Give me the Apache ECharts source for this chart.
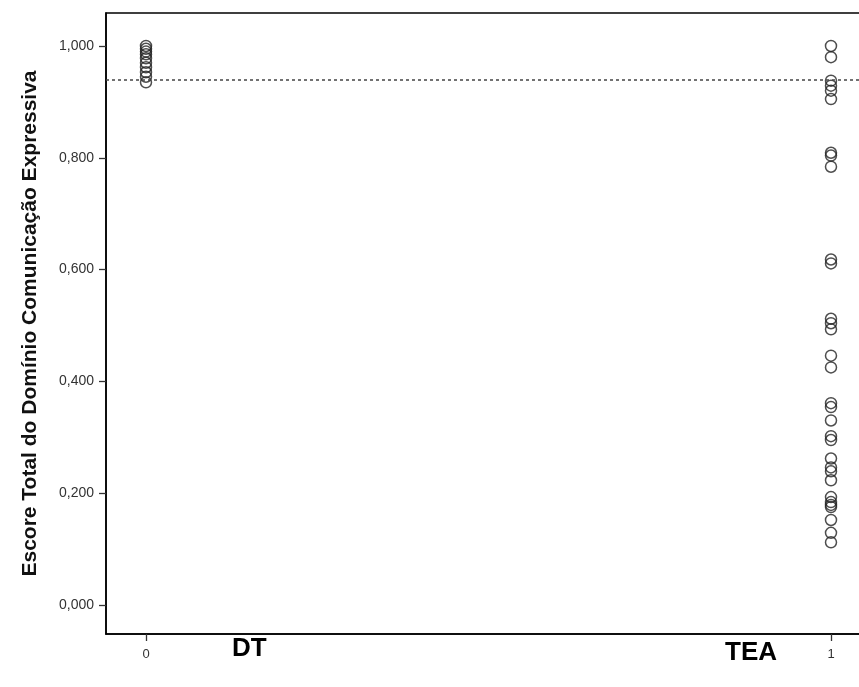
<!DOCTYPE html>
<html>
<head>
<meta charset="utf-8">
<script src="https://cdn.jsdelivr.net/npm/echarts@6/dist/echarts.min.js"></script>
<style>
html,body{margin:0;padding:0;background:#fff;}
#chart{width:859px;height:687px;}
</style>
</head>
<body>
<div id="chart"></div>
<script>
var groupLabels = ['DT', 'TEA'];
var groupCodes = [0, 1];
var dtValues = [1.000, 0.995, 0.990, 0.985, 0.978, 0.970, 0.962, 0.953, 0.945, 0.935];
var teaValues = [1.000, 0.980, 0.938, 0.929, 0.920, 0.905, 0.809, 0.804, 0.784,
  0.618, 0.611, 0.512, 0.504, 0.493, 0.446, 0.425, 0.361, 0.354, 0.330, 0.302,
  0.295, 0.262, 0.246, 0.239, 0.223, 0.193, 0.184, 0.179, 0.175, 0.152, 0.129, 0.112];
var referenceValue = 0.942;
var yTicks = [0, 0.2, 0.4, 0.6, 0.8, 1.0];
var xTicks = [0, 1];
var yTitle = 'Escore Total do Domínio Comunicação Expressiva';

var chart = echarts.init(document.getElementById('chart'));
var ink = '#000';
var circleStyle = {color: 'rgba(0,0,0,0)', borderColor: '#222', borderWidth: 1.5};

chart.setOption({
  animation: false,
  backgroundColor: '#fff',
  grid: {left: 106, top: 13, width: 765, height: 621, outerBoundsMode: 'none', containLabel: false,
    show: true, borderColor: ink, borderWidth: 1.5},
  xAxis: {
    type: 'value', min: -0.0584, max: 1.0584,
    splitLine: {show: false},
    axisLine: {show: true, onZero: false, lineStyle: {color: ink, width: 1.5}},
    axisTick: {show: true, customValues: xTicks, length: 7, lineStyle: {color: '#333', width: 1.3}},
    axisLabel: {customValues: xTicks, color: '#333', fontFamily: 'Liberation Sans, Arial', fontSize: 13, margin: 14,
      formatter: function (v) { return String(Math.round(v)); }}
  },
  yAxis: {
    type: 'value', min: -0.052, max: 1.059,
    name: yTitle, nameLocation: 'middle', nameGap: 65, nameRotate: 90,
    nameTextStyle: {color: '#111', fontFamily: 'Liberation Sans, Arial', fontWeight: 'bold', fontSize: 21},
    splitLine: {show: false},
    axisLine: {show: true, onZero: false, lineStyle: {color: ink, width: 1.5}},
    axisTick: {show: true, customValues: yTicks, length: 7, lineStyle: {color: '#333', width: 1.3}},
    axisLabel: {customValues: yTicks, color: '#333', fontFamily: 'Liberation Sans, Arial', fontSize: 14, margin: 12,
      formatter: function (v) { return v.toFixed(3).replace('.', ','); }}
  },
  graphic: [
    {type: 'text', left: 232, top: 636, style: {text: groupLabels[0], fill: '#000', font: 'bold 26px "Liberation Sans Narrow", "Liberation Sans", Arial'}},
    {type: 'text', left: 725, top: 640, style: {text: groupLabels[1], fill: '#000', font: 'bold 26px "Liberation Sans Narrow", "Liberation Sans", Arial'}}
  ],
  series: [
    {
      type: 'scatter', symbol: 'circle', symbolSize: 11,
      itemStyle: circleStyle,
      data: dtValues.map(function (v) { return [groupCodes[0], v]; }),
      markLine: {
        silent: true, symbol: 'none', label: {show: false},
        lineStyle: {color: '#444', type: [3, 3], width: 1.6},
        data: [{yAxis: referenceValue}]
      }
    },
    {
      type: 'scatter', symbol: 'circle', symbolSize: 11,
      itemStyle: circleStyle,
      data: teaValues.map(function (v) { return [groupCodes[1], v]; })
    }
  ]
});
</script>
</body>
</html>
